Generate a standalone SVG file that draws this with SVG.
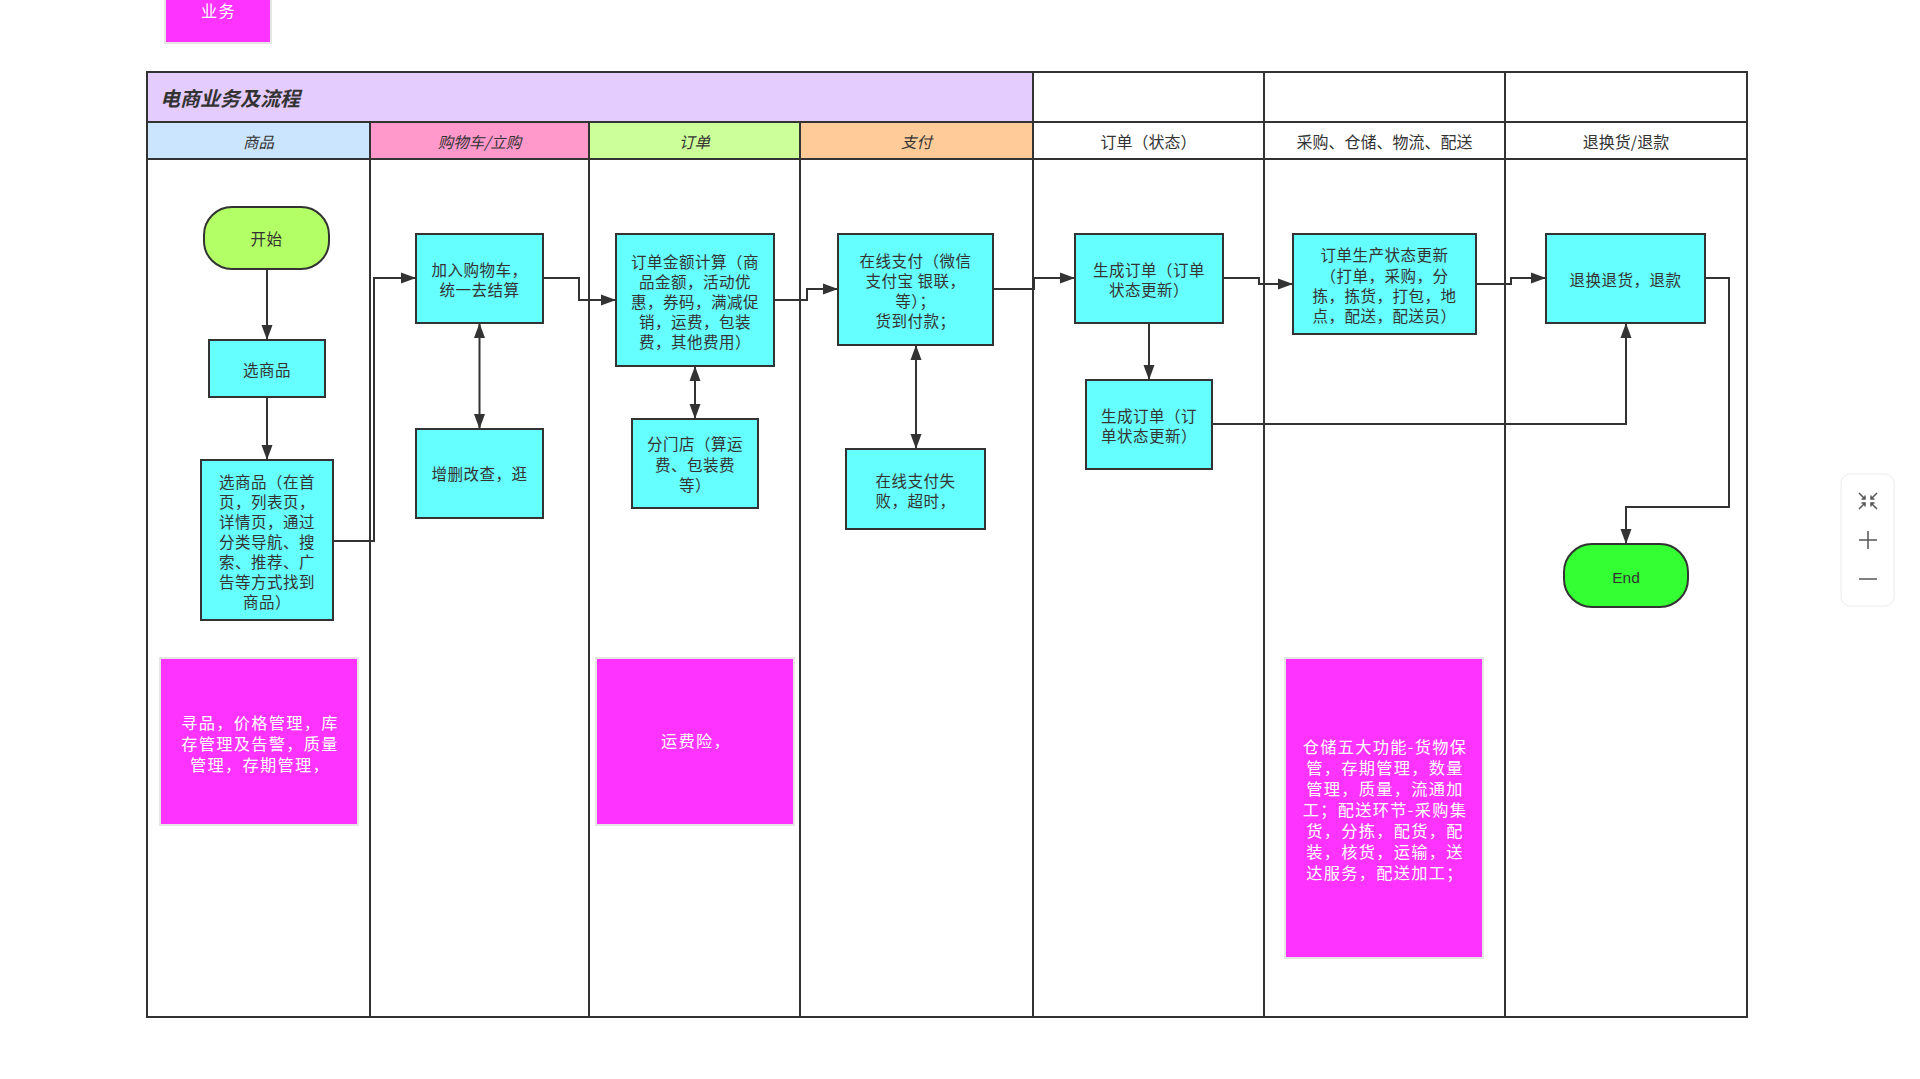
<svg xmlns="http://www.w3.org/2000/svg" width="1920" height="1079" viewBox="0 0 1920 1079">
  <defs>
    <marker id="arr" markerUnits="userSpaceOnUse" markerWidth="16" markerHeight="12" refX="15" refY="6" orient="auto-start-reverse">
      <path d="M0,0.5 L15,6 L0,11.5 Z" fill="#333"/>
    </marker>
    <style>
      .grid{stroke:#333;stroke-width:2;fill:none}
      .proc{fill:#66ffff;stroke:#333;stroke-width:2}
      .term{stroke:#333;stroke-width:2}
      .note{fill:#ff33ff;stroke:#e6e6e6;stroke-width:2}
      .t{font-family:"Noto Sans CJK SC","Noto Sans",sans-serif;font-size:15.5px;letter-spacing:0.5px;fill:#333;text-anchor:middle;dominant-baseline:central}
      .h{font-family:"Noto Sans CJK SC","Noto Sans",sans-serif;font-size:16px;fill:#333;text-anchor:middle;dominant-baseline:central}
      .hi{font-style:italic;font-size:15.5px}
      .title{font-family:"Noto Sans CJK SC","Noto Sans",sans-serif;font-size:20px;font-weight:bold;font-style:italic;fill:#333;dominant-baseline:central}
      .nt{font-family:"Noto Sans CJK SC","Noto Sans",sans-serif;font-size:16.2px;letter-spacing:1.3px;fill:#fff;text-anchor:middle;dominant-baseline:central}
      .conn{stroke:#333;stroke-width:2;fill:none}
      .tool{stroke:#555;stroke-width:1.5;fill:none}
    </style>
  </defs>

  <rect width="1920" height="1079" fill="#fff"/>

  <!-- top tag -->
  <g id="tag-business">
    <rect x="165" y="-2" width="106" height="45" class="note"/>
    <text x="218.5" y="10" class="nt">业务</text>
  </g>

  <!-- swimlane table -->
  <g id="lanes">
    <rect x="147" y="72" width="886" height="50" fill="#e5ccff"/>
    <rect x="147" y="122" width="223" height="37" fill="#cce5ff"/>
    <rect x="370" y="122" width="219" height="37" fill="#ff99cc"/>
    <rect x="589" y="122" width="211" height="37" fill="#ccff99"/>
    <rect x="800" y="122" width="233" height="37" fill="#ffcc99"/>
    <rect x="147" y="72" width="1600" height="945" class="grid"/>
    <line x1="147" y1="122" x2="1747" y2="122" class="grid"/>
    <line x1="147" y1="159" x2="1747" y2="159" class="grid"/>
    <line x1="370" y1="122" x2="370" y2="1017" class="grid"/>
    <line x1="589" y1="122" x2="589" y2="1017" class="grid"/>
    <line x1="800" y1="122" x2="800" y2="1017" class="grid"/>
    <line x1="1033" y1="72" x2="1033" y2="1017" class="grid"/>
    <line x1="1264" y1="72" x2="1264" y2="1017" class="grid"/>
    <line x1="1505" y1="72" x2="1505" y2="1017" class="grid"/>
    <text x="160" y="97" class="title">电商业务及流程</text>
    <text x="258.5" y="141" class="h hi">商品</text>
    <text x="479.5" y="141" class="h hi">购物车/立购</text>
    <text x="694.5" y="141" class="h hi">订单</text>
    <text x="916.5" y="141" class="h hi">支付</text>
    <text x="1148.5" y="141" class="h">订单（状态）</text>
    <text x="1384.5" y="141" class="h">采购、仓储、物流、配送</text>
    <text x="1626" y="141" class="h">退换货/退款</text>
  </g>

  <!-- connectors -->
  <g id="connectors">
    <path class="conn" d="M267,269 V340" marker-end="url(#arr)"/>
    <path class="conn" d="M267,397 V460" marker-end="url(#arr)"/>
    <path class="conn" d="M333,541 H374 V278 H416" marker-end="url(#arr)"/>
    <path class="conn" d="M479.5,323 V429" marker-start="url(#arr)" marker-end="url(#arr)"/>
    <path class="conn" d="M543,278 H579 V300 H616" marker-end="url(#arr)"/>
    <path class="conn" d="M695,366 V419" marker-start="url(#arr)" marker-end="url(#arr)"/>
    <path class="conn" d="M774,300 H807 V289 H838" marker-end="url(#arr)"/>
    <path class="conn" d="M916,345 V449" marker-start="url(#arr)" marker-end="url(#arr)"/>
    <path class="conn" d="M993,289 H1034 V278 H1075" marker-end="url(#arr)"/>
    <path class="conn" d="M1149,323 V380" marker-end="url(#arr)"/>
    <path class="conn" d="M1223,278 H1259 V284 H1293" marker-end="url(#arr)"/>
    <path class="conn" d="M1476,284 H1511 V278 H1546" marker-end="url(#arr)"/>
    <path class="conn" d="M1212,424 H1626 V323" marker-end="url(#arr)"/>
    <path class="conn" d="M1705,278 H1729 V507 H1626 V544" marker-end="url(#arr)"/>
  </g>

  <!-- goods lane -->
  <g id="start">
    <rect x="204" y="207" width="125" height="62" rx="28" class="term" fill="#b3ff66"/>
    <text x="266.5" y="238" class="t">开始</text>
  </g>
  <g id="pick-goods">
    <rect x="209" y="340" width="116" height="57" class="proc"/>
    <text x="267" y="369" class="t">选商品</text>
  </g>
  <g id="pick-goods-detail">
    <rect x="201" y="460" width="132" height="160" class="proc"/>
    <text x="267" y="481" class="t">选商品（在首</text>
    <text x="267" y="501" class="t">页，列表页，</text>
    <text x="267" y="521" class="t">详情页，通过</text>
    <text x="267" y="541" class="t">分类导航、搜</text>
    <text x="267" y="561" class="t">索、推荐、广</text>
    <text x="267" y="581" class="t">告等方式找到</text>
    <text x="267" y="601" class="t">商品）</text>
  </g>

  <!-- cart lane -->
  <g id="add-cart">
    <rect x="416" y="234" width="127" height="89" class="proc"/>
    <text x="479.5" y="269" class="t">加入购物车，</text>
    <text x="479.5" y="289" class="t">统一去结算</text>
  </g>
  <g id="cart-edit">
    <rect x="416" y="429" width="127" height="89" class="proc"/>
    <text x="479.5" y="473" class="t">增删改查，逛</text>
  </g>

  <!-- order lane -->
  <g id="order-amount">
    <rect x="616" y="234" width="158" height="132" class="proc"/>
    <text x="695" y="261" class="t">订单金额计算（商</text>
    <text x="695" y="281" class="t">品金额，活动优</text>
    <text x="695" y="301" class="t">惠，券码，满减促</text>
    <text x="695" y="321" class="t">销，运费，包装</text>
    <text x="695" y="341" class="t">费，其他费用）</text>
  </g>
  <g id="branch-store">
    <rect x="632" y="419" width="126" height="89" class="proc"/>
    <text x="695" y="443" class="t">分门店（算运</text>
    <text x="695" y="464" class="t">费、包装费</text>
    <text x="695" y="484" class="t">等）</text>
  </g>

  <!-- payment lane -->
  <g id="online-pay">
    <rect x="838" y="234" width="155" height="111" class="proc"/>
    <text x="915.5" y="260" class="t">在线支付（微信</text>
    <text x="915.5" y="280" class="t">支付宝 银联，</text>
    <text x="915.5" y="300" class="t">等）；</text>
    <text x="915.5" y="320" class="t">货到付款；</text>
  </g>
  <g id="pay-fail">
    <rect x="846" y="449" width="139" height="80" class="proc"/>
    <text x="915.5" y="480" class="t">在线支付失</text>
    <text x="915.5" y="500" class="t">败，超时，</text>
  </g>

  <!-- order status lane -->
  <g id="create-order">
    <rect x="1075" y="234" width="148" height="89" class="proc"/>
    <text x="1149" y="269" class="t">生成订单（订单</text>
    <text x="1149" y="289" class="t">状态更新）</text>
  </g>
  <g id="create-order-2">
    <rect x="1086" y="380" width="126" height="89" class="proc"/>
    <text x="1149" y="415" class="t">生成订单（订</text>
    <text x="1149" y="435" class="t">单状态更新）</text>
  </g>

  <!-- logistics lane -->
  <g id="production-status">
    <rect x="1293" y="234" width="183" height="100" class="proc"/>
    <text x="1384.5" y="254" class="t">订单生产状态更新</text>
    <text x="1384.5" y="275" class="t">（打单，采购，分</text>
    <text x="1384.5" y="295" class="t">拣，拣货，打包，地</text>
    <text x="1384.5" y="315" class="t">点，配送，配送员）</text>
  </g>

  <!-- return lane -->
  <g id="return-refund">
    <rect x="1546" y="234" width="159" height="89" class="proc"/>
    <text x="1625.5" y="279" class="t">退换退货，退款</text>
  </g>
  <g id="end">
    <rect x="1564" y="544" width="124" height="63" rx="28" class="term" fill="#33ff33"/>
    <text x="1626" y="577" class="t" style="font-family:'Liberation Sans','Noto Sans',sans-serif;letter-spacing:0">End</text>
  </g>

  <!-- notes -->
  <g id="note-goods">
    <rect x="160" y="658" width="198" height="167" class="note"/>
    <text x="260" y="722" class="nt">寻品，价格管理，库</text>
    <text x="260" y="743" class="nt">存管理及告警，质量</text>
    <text x="260" y="764" class="nt">管理，存期管理，</text>
  </g>
  <g id="note-order">
    <rect x="596" y="658" width="198" height="167" class="note"/>
    <text x="696" y="740" class="nt">运费险，</text>
  </g>
  <g id="note-logistics">
    <rect x="1285" y="658" width="198" height="300" class="note"/>
    <text x="1385" y="746" class="nt">仓储五大功能-货物保</text>
    <text x="1385" y="767" class="nt">管，存期管理，数量</text>
    <text x="1385" y="788" class="nt">管理，质量，流通加</text>
    <text x="1385" y="809" class="nt">工；配送环节-采购集</text>
    <text x="1385" y="830" class="nt">货，分拣，配货，配</text>
    <text x="1385" y="851" class="nt">装，核货，运输，送</text>
    <text x="1385" y="872" class="nt">达服务，配送加工；</text>
  </g>

  <!-- zoom toolbar -->
  <g id="zoom-toolbar">
    <rect x="1841" y="474" width="53" height="132" rx="9" fill="#fff" stroke="#ececec" stroke-width="1"/>
    <path class="tool" d="M1859,493 L1865,499 M1861.5,499 H1865 V495.5 M1877,493 L1871,499 M1874.5,499 H1871 V495.5 M1859,509 L1865,503 M1861.5,503 H1865 V506.5 M1877,509 L1871,503 M1874.5,503 H1871 V506.5"/>
    <path class="tool" d="M1859,540 H1877 M1868,531 V549"/>
    <path class="tool" d="M1859,579 H1877"/>
  </g>
</svg>
